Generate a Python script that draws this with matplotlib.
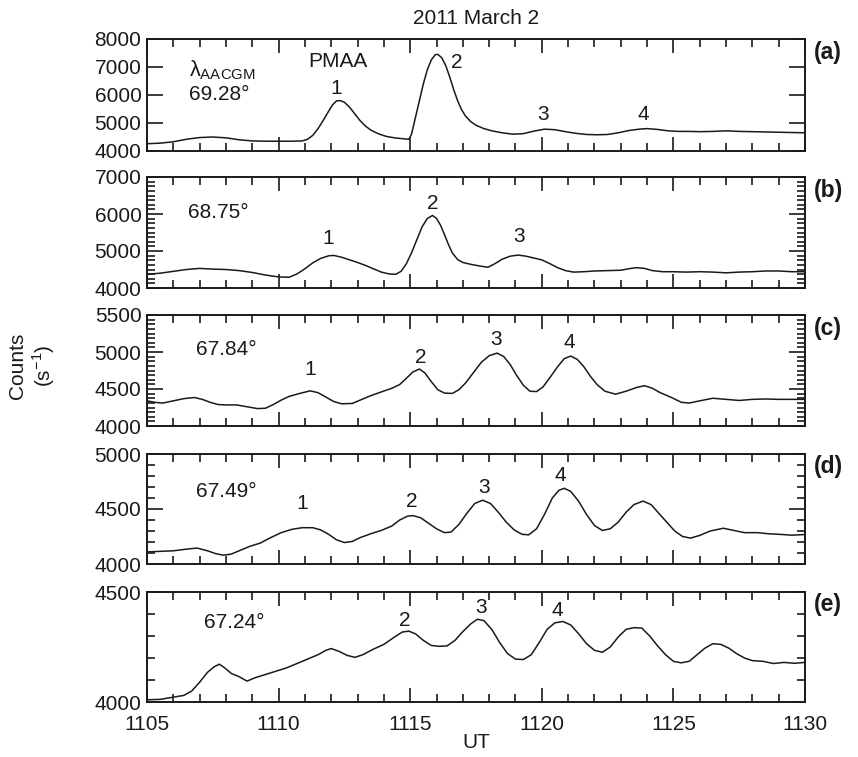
import matplotlib
matplotlib.use("Agg")
import matplotlib.pyplot as plt
from matplotlib.ticker import MultipleLocator

plt.rcParams['font.family'] = ['Liberation Sans', 'DejaVu Sans']
plt.rcParams['mathtext.fontset'] = 'custom'
plt.rcParams['mathtext.rm'] = 'Liberation Sans'

# ---------------- data ----------------
t_a = [1105.0, 1105.5, 1106.0, 1106.5, 1107.0, 1107.5, 1108.0, 1108.5, 1109.0, 1109.5,
       1110.0, 1110.5, 1110.9, 1111.1, 1111.3, 1111.5, 1111.7, 1111.9, 1112.05, 1112.2,
       1112.35, 1112.5, 1112.7, 1112.9, 1113.1, 1113.3, 1113.5, 1113.8, 1114.1, 1114.4,
       1114.7, 1114.95, 1115.05, 1115.2, 1115.35, 1115.5, 1115.65, 1115.8, 1115.95, 1116.05,
       1116.2, 1116.35, 1116.5, 1116.65, 1116.8, 1116.95, 1117.1, 1117.3, 1117.5, 1117.8,
       1118.1, 1118.5, 1118.9, 1119.3, 1119.7, 1120.1, 1120.5, 1120.9, 1121.3, 1121.7,
       1122.1, 1122.5, 1122.9, 1123.3, 1123.7, 1124.0, 1124.4, 1124.8, 1125.2, 1125.6,
       1126.0, 1126.5, 1127.0, 1127.5, 1128.0, 1128.5, 1129.0, 1129.5, 1130.0]
v_a = [4260, 4280, 4330, 4420, 4480, 4500, 4470, 4400, 4360, 4350,
       4350, 4350, 4360, 4420, 4560, 4800, 5100, 5420, 5650, 5790,
       5800, 5740, 5560, 5320, 5080, 4890, 4750, 4610, 4520, 4470,
       4440, 4420, 4600, 5200, 5800, 6400, 6900, 7250, 7440, 7450,
       7330, 7050, 6650, 6200, 5800, 5480, 5250, 5050, 4920, 4800,
       4720, 4650, 4600, 4620, 4710, 4780, 4760, 4690, 4630, 4590,
       4580, 4590, 4650, 4730, 4780, 4800, 4770, 4720, 4700, 4700,
       4690, 4700, 4720, 4700, 4690, 4680, 4670, 4660, 4650]

t_b = [1105.0, 1105.5, 1106.0, 1106.5, 1107.0, 1107.5, 1108.0, 1108.5, 1109.0, 1109.5,
       1110.0, 1110.4, 1110.7, 1111.0, 1111.3, 1111.6, 1111.9, 1112.1, 1112.4, 1112.7,
       1113.0, 1113.3, 1113.6, 1113.9, 1114.2, 1114.45, 1114.65, 1114.85, 1115.05, 1115.25,
       1115.45, 1115.65, 1115.85, 1116.0, 1116.15, 1116.3, 1116.45, 1116.6, 1116.8, 1117.0,
       1117.3, 1117.6, 1117.95, 1118.2, 1118.5, 1118.8, 1119.1, 1119.4, 1119.7, 1120.0,
       1120.3, 1120.6, 1120.9, 1121.2, 1121.6, 1122.0, 1122.5, 1123.0, 1123.3, 1123.6,
       1123.9, 1124.2, 1124.6, 1125.0, 1125.5, 1126.0, 1126.5, 1127.0, 1127.5, 1128.0,
       1128.5, 1129.0, 1129.5, 1130.0]
v_b = [4370, 4400, 4450, 4500, 4530, 4510, 4500, 4470, 4420, 4350,
       4300, 4290, 4380, 4520, 4680, 4800, 4870, 4880, 4830, 4760,
       4690, 4610, 4520, 4430, 4380, 4370, 4450, 4650, 4950, 5300,
       5650, 5880, 5960, 5880, 5700, 5450, 5180, 4950, 4770, 4690,
       4640, 4600, 4560, 4650, 4780, 4860, 4890, 4860, 4810, 4760,
       4660, 4550, 4470, 4430, 4440, 4460, 4470, 4480, 4520, 4550,
       4530, 4470, 4440, 4440, 4430, 4440, 4430, 4410, 4430, 4440,
       4460, 4460, 4440, 4440]

t_c = [1105.0, 1105.3, 1105.6, 1106.0, 1106.4, 1106.8, 1107.1, 1107.4, 1107.7, 1108.0,
       1108.4, 1108.8, 1109.2, 1109.5, 1109.8, 1110.1, 1110.4, 1110.8, 1111.2, 1111.5,
       1111.8, 1112.1, 1112.4, 1112.8, 1113.1, 1113.5, 1113.9, 1114.3, 1114.6, 1114.9,
       1115.1, 1115.35, 1115.55, 1115.8, 1116.05, 1116.3, 1116.6, 1116.85, 1117.1, 1117.4,
       1117.7, 1118.0, 1118.3, 1118.55, 1118.8, 1119.05, 1119.3, 1119.55, 1119.8, 1120.05,
       1120.3, 1120.6, 1120.85, 1121.1, 1121.35, 1121.6, 1121.85, 1122.1, 1122.4, 1122.8,
       1123.2, 1123.6, 1123.9, 1124.2, 1124.5, 1124.9, 1125.3, 1125.6, 1126.0, 1126.5,
       1127.0, 1127.5, 1128.0, 1128.5, 1129.0, 1129.5, 1130.0]
v_c = [4340, 4320, 4310, 4340, 4370, 4385, 4360, 4320, 4290, 4285,
       4285, 4260, 4235, 4240, 4290, 4350, 4400, 4440, 4475, 4450,
       4390, 4330, 4300, 4305, 4350, 4410, 4460, 4510, 4560, 4660,
       4730, 4770, 4720, 4600, 4490, 4445, 4440, 4490, 4580, 4720,
       4860, 4950, 4985, 4940, 4830, 4680, 4550, 4470, 4465, 4530,
       4650, 4800, 4910, 4945, 4900, 4800, 4670, 4560, 4470, 4430,
       4470, 4520, 4545, 4510, 4450, 4390, 4320, 4310, 4340, 4375,
       4360, 4345, 4360, 4365, 4360, 4360, 4360]

t_d = [1105.0, 1105.5, 1106.0, 1106.5, 1106.9, 1107.3, 1107.6, 1107.9, 1108.2, 1108.5,
       1108.9, 1109.3, 1109.7, 1110.1, 1110.5, 1110.9, 1111.3, 1111.6, 1111.9, 1112.2,
       1112.5, 1112.8, 1113.1, 1113.5, 1113.9, 1114.3, 1114.6, 1114.9, 1115.1, 1115.4,
       1115.7, 1116.0, 1116.3, 1116.55, 1116.85, 1117.15, 1117.45, 1117.75, 1118.05, 1118.35,
       1118.65, 1118.95, 1119.25, 1119.5, 1119.8, 1120.1, 1120.4, 1120.65, 1120.85, 1121.1,
       1121.4, 1121.7, 1122.0, 1122.3, 1122.6, 1122.9, 1123.2, 1123.5, 1123.85, 1124.15,
       1124.45, 1124.75, 1125.05, 1125.35, 1125.65, 1126.0, 1126.4, 1126.9, 1127.3, 1127.7,
       1128.2, 1128.6, 1129.0, 1129.5, 1130.0]
v_d = [4110, 4115, 4120, 4135, 4145, 4120, 4095, 4080, 4090, 4120,
       4160, 4190, 4240, 4285, 4315, 4330, 4330, 4310, 4270, 4220,
       4195, 4205, 4240, 4275, 4305, 4345, 4400, 4435, 4440, 4420,
       4370, 4320, 4285, 4290, 4360, 4460, 4550, 4580, 4550, 4470,
       4380, 4310, 4270, 4265, 4320, 4450, 4600, 4670, 4688, 4660,
       4570, 4450, 4350, 4305, 4320, 4380, 4470, 4540, 4572, 4540,
       4460, 4380, 4300, 4250, 4235, 4260, 4300, 4325, 4305, 4285,
       4285, 4275, 4270, 4262, 4268]

t_e = [1105.0, 1105.5, 1106.0, 1106.4, 1106.7, 1107.0, 1107.3, 1107.55, 1107.75, 1107.95,
       1108.2, 1108.5, 1108.8, 1109.1, 1109.5, 1109.9, 1110.3, 1110.7, 1111.1, 1111.5,
       1111.8, 1112.0, 1112.3, 1112.6, 1112.9, 1113.2, 1113.6, 1114.0, 1114.4, 1114.7,
       1114.95, 1115.2, 1115.5, 1115.8, 1116.1, 1116.4, 1116.7, 1117.0, 1117.3, 1117.55,
       1117.8, 1118.1, 1118.4, 1118.7, 1119.0, 1119.3, 1119.6, 1119.9, 1120.2, 1120.5,
       1120.8, 1121.1, 1121.4, 1121.7, 1122.0, 1122.3, 1122.6, 1122.9, 1123.2, 1123.5,
       1123.8, 1124.1, 1124.4, 1124.7, 1125.0, 1125.3, 1125.6, 1125.9, 1126.2, 1126.5,
       1126.8, 1127.1, 1127.4, 1127.7, 1128.0, 1128.4, 1128.8, 1129.2, 1129.6, 1130.0]
v_e = [4010, 4012, 4022, 4030, 4050, 4090, 4135, 4160, 4172, 4155,
       4130, 4115, 4095, 4110, 4125, 4140, 4155, 4175, 4195, 4215,
       4235, 4243, 4230, 4212, 4203, 4215, 4240, 4262, 4295, 4318,
       4322, 4310, 4280, 4257, 4253, 4255, 4280, 4320, 4355, 4376,
       4370, 4330, 4270, 4220, 4195, 4193, 4215, 4270, 4330, 4360,
       4366, 4350, 4310, 4265, 4235, 4226, 4250, 4295, 4330, 4338,
       4336, 4300, 4255, 4215, 4185, 4178, 4185, 4215, 4245, 4265,
       4262, 4245, 4220, 4200, 4188, 4185, 4175, 4180, 4176, 4180]

panel_ids = ['(a)', '(b)', '(c)', '(d)', '(e)']
latitudes = ['69.28°', '68.75°', '67.84°', '67.49°', '67.24°']
ylims = [(4000, 8000), (4000, 7000), (4000, 5500), (4000, 5000), (4000, 4500)]
yticks = [[4000, 5000, 6000, 7000, 8000],
          [4000, 5000, 6000, 7000],
          [4000, 4500, 5000, 5500],
          [4000, 4500, 5000],
          [4000, 4500]]
yminor = [None, 125, 62.5, 100, 100]
xticks = [1105, 1110, 1115, 1120, 1125, 1130]

# peak labels: (label, t, value)
peaks = [
    [('1', 1112.2, 6250), ('2', 1116.75, 7150), ('3', 1120.05, 5300), ('4', 1123.85, 5300)],
    [('1', 1111.9, 5350), ('2', 1115.85, 6280), ('3', 1119.15, 5390)],
    [('1', 1111.2, 4770), ('2', 1115.4, 4930), ('3', 1118.25, 5165), ('4', 1121.05, 5135)],
    [('1', 1110.9, 4550), ('2', 1115.05, 4565), ('3', 1117.8, 4695), ('4', 1120.7, 4805)],
    [('2', 1114.8, 4372), ('3', 1117.7, 4430), ('4', 1120.6, 4415)],
]
lat_pos = [(1107.75, 6000), (1107.7, 6050), (1108.0, 5030), (1108.0, 4655), (1108.3, 4362)]

series = [(t_a, v_a), (t_b, v_b), (t_c, v_c), (t_d, v_d), (t_e, v_e)]

# ---------------- layout ----------------
W, H = 858, 757
fig = plt.figure(figsize=(W / 100, H / 100), dpi=100)
left_px, right_px = 147, 805
panel_px = [(39, 151), (177, 288), (315, 426), (454, 564), (592, 702)]

fs = 15
ink = '#1a1a1a'
axes = []
for i, (top, bot) in enumerate(panel_px):
    ax = fig.add_axes([left_px / W, 1 - bot / H, (right_px - left_px) / W, (bot - top) / H])
    axes.append(ax)
    t, v = series[i]
    ax.plot(t, v, color=ink, lw=1.1)
    ax.set_xlim(1105, 1130)
    ax.set_ylim(*ylims[i])
    ax.set_yticks(yticks[i])
    ax.set_xticks(xticks)
    ax.xaxis.set_minor_locator(MultipleLocator(1))
    if yminor[i]:
        ax.yaxis.set_minor_locator(MultipleLocator(yminor[i]))
    ax.tick_params(axis='both', which='both', direction='in', top=True, right=True,
                   width=1.2, colors=ink, labelsize=fs, labelcolor=ink)
    ax.tick_params(axis='y', which='major', length=11.5, pad=4)
    ax.tick_params(axis='y', which='minor', length=5.5)
    ax.tick_params(axis='x', which='major', length=10, pad=9)
    ax.tick_params(axis='x', which='minor', length=5.5)
    for s in ax.spines.values():
        s.set_linewidth(1.4)
        s.set_color(ink)
    if i < 4:
        ax.tick_params(axis='x', labelbottom=False)
    for lab, tx, ty in peaks[i]:
        ax.text(tx, ty, lab, ha='center', va='center', fontsize=fs, color=ink)
    ax.text(lat_pos[i][0], lat_pos[i][1], latitudes[i], ha='center', va='center',
            fontsize=fs, color=ink)
    fig.text((right_px + 9) / W, 1 - (top + 13) / H, panel_ids[i], ha='left', va='center',
             fontsize=fs + 1.5, fontweight='bold', color=ink)

axes[0].text(1107.85, 6900, r'λ$_{\mathrm{AACGM}}$', ha='center', va='center',
             fontsize=fs + 0.5, color=ink)
axes[0].text(1112.25, 7200, 'PMAA', ha='center', va='center', fontsize=fs, color=ink)

axes[-1].set_xlabel('UT', fontsize=fs, color=ink, labelpad=0)
fig.text((left_px + right_px) / 2 / W, 1 - 19 / H, '2011 March 2', ha='center', va='center',
         fontsize=fs, color=ink)
fig.text(18 / W, 1 - 366 / H, 'Counts', rotation=90, ha='center', va='center',
         fontsize=fs, color=ink)
fig.text(44 / W, 1 - 366 / H, r'(s$^{\mathrm{-1}}$)', rotation=90, ha='center', va='center',
         fontsize=fs, color=ink)

fig.savefig('out.png', dpi=100)
